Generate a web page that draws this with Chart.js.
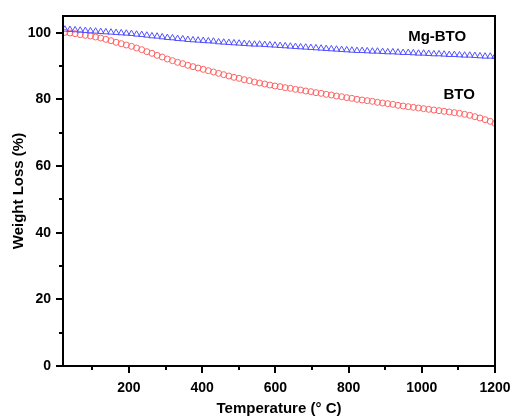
<!DOCTYPE html>
<html>
<head>
<meta charset="utf-8">
<script src="https://cdn.jsdelivr.net/npm/chart.js@4/dist/chart.umd.min.js"></script>
<style>
html,body{margin:0;padding:0;background:#fff;}
#wrap{width:513px;height:418px;position:relative;}
</style>
</head>
<body>
<div id="wrap"><canvas id="c" width="513" height="418"></canvas></div>
<script>
const temperatures = [25,39,53,67,81,95,109,123,137,151,165,179,193,207,221,235,249,263,277,291,305,319,333,347,361,375,389,403,417,431,445,459,473,487,501,515,529,543,557,571,585,599,613,627,641,655,669,683,697,711,725,739,753,767,781,795,809,823,837,851,865,879,893,907,921,935,949,963,977,991,1005,1019,1033,1047,1061,1075,1089,1103,1117,1131,1145,1159,1173,1187,1200];
const btoWeight = [100.1,99.9,99.7,99.4,99.2,99.0,98.7,98.4,98.0,97.6,97.1,96.7,96.3,95.9,95.4,94.9,94.3,93.8,93.2,92.7,92.1,91.6,91.1,90.7,90.2,89.8,89.4,89.0,88.6,88.2,87.8,87.4,87.0,86.6,86.3,85.9,85.6,85.2,84.9,84.6,84.3,84.0,83.8,83.5,83.3,83.0,82.8,82.5,82.3,82.0,81.8,81.5,81.3,81.0,80.8,80.5,80.3,80.0,79.8,79.6,79.4,79.1,78.9,78.7,78.5,78.2,78.0,77.8,77.6,77.4,77.2,77.0,76.8,76.6,76.4,76.2,76.0,75.8,75.5,75.2,74.8,74.4,73.9,73.4,72.8];
const mgBtoWeight = [101.0,100.9,100.8,100.7,100.6,100.5,100.4,100.3,100.2,100.1,100.0,99.9,99.8,99.7,99.5,99.4,99.2,99.0,98.9,98.7,98.5,98.4,98.2,98.1,97.9,97.8,97.7,97.6,97.5,97.4,97.2,97.1,97.0,96.9,96.8,96.7,96.6,96.5,96.5,96.4,96.3,96.2,96.1,96.0,95.9,95.8,95.7,95.6,95.5,95.4,95.3,95.2,95.1,95.0,94.9,94.8,94.7,94.6,94.6,94.5,94.4,94.4,94.3,94.2,94.2,94.1,94.0,94.0,93.9,93.8,93.8,93.7,93.6,93.6,93.5,93.4,93.4,93.3,93.2,93.2,93.1,93.0,92.9,92.9,92.8];
const xTickValues = [100,200,300,400,500,600,700,800,900,1000,1100,1200];
const xTickLabels = ["","200","","400","","600","","800","","1000","","1200"];
const yTickValues = [0,10,20,30,40,50,60,70,80,90,100];
const yTickLabels = ["0","","20","","40","","60","","80","","100"];
const seriesNames = ["Mg-BTO","BTO"];
const labelSpots = [{text:"Mg-BTO", x:1042, y:98.7},{text:"BTO", x:1102, y:81.3}];

const FONT = "'Liberation Sans', Arial, sans-serif";

const toXY = (xs, ys) => xs.map((t,i)=>({x:t, y:ys[i]}));

const framePlugin = {
  id:'frame',
  afterDatasetsDraw(chart){
    const {ctx, chartArea:a, scales} = chart;
    ctx.save();
    ctx.strokeStyle = '#000';
    ctx.lineWidth = 2;
    ctx.strokeRect(a.left, a.top, a.right-a.left, a.bottom-a.top);
    ctx.lineWidth = 2;
    ctx.beginPath();
    xTickValues.forEach((v,i)=>{
      const px = Math.round(scales.x.getPixelForValue(v));
      const len = xTickLabels[i] ? 7 : 4;
      ctx.moveTo(px, a.bottom); ctx.lineTo(px, a.bottom+len);
    });
    yTickValues.forEach((v,i)=>{
      const py = Math.round(scales.y.getPixelForValue(v));
      const len = yTickLabels[i] ? 7 : 4;
      ctx.moveTo(a.left, py); ctx.lineTo(a.left-len, py);
    });
    ctx.stroke();
    ctx.fillStyle = '#000';
    ctx.font = "bold 15px " + FONT;
    ctx.textAlign = 'center';
    ctx.textBaseline = 'middle';
    labelSpots.forEach(s=>{
      ctx.fillText(s.text, scales.x.getPixelForValue(s.x), scales.y.getPixelForValue(s.y));
    });
    ctx.restore();
  }
};

new Chart(document.getElementById('c'), {
  type:'scatter',
  data:{
    datasets:[
      {
        label: seriesNames[0],
        data: toXY(temperatures, mgBtoWeight),
        pointStyle:'triangle',
        pointRadius:3.6,
        borderColor:'rgb(80,80,255)',
        backgroundColor:'rgba(0,0,0,0)',
        pointBorderWidth:1,
        showLine:false
      },
      {
        label: seriesNames[1],
        data: toXY(temperatures, btoWeight),
        pointStyle:'circle',
        pointRadius:3,
        borderColor:'rgb(255,100,100)',
        backgroundColor:'rgba(0,0,0,0)',
        pointBorderWidth:1,
        showLine:false
      }
    ]
  },
  options:{
    responsive:false,
    animation:false,
    devicePixelRatio:1,
    layout:{padding:{left:10, top:16, right:18, bottom:0}},
    plugins:{legend:{display:false}, tooltip:{enabled:false}},
    scales:{
      x:{
        type:'linear', min:20, max:1200,
        afterBuildTicks(s){ s.ticks = xTickValues.map(v=>({value:v})); },
        afterFit(s){ s.height = 52; s.paddingLeft = 0; s.paddingRight = 0; },
        grid:{display:true, drawOnChartArea:false, drawTicks:true, tickLength:7, tickColor:'rgba(0,0,0,0)'},
        border:{display:false},
        ticks:{
          autoSkip:false, maxRotation:0, padding:7, color:'#000',
          font:{family:FONT, size:14, weight:'bold'},
          callback(v){ const i = xTickValues.indexOf(v); return i>=0 ? xTickLabels[i] : ''; }
        },
        title:{display:true, text:'Temperature (° C)', color:'#000', padding:{top:2,bottom:0},
          font:{family:FONT, size:15, weight:'bold'}}
      },
      y:{
        type:'linear', min:0, max:105,
        afterBuildTicks(s){ s.ticks = yTickValues.map(v=>({value:v})); },
        afterFit(s){ s.width = 53; s.paddingTop = 0; s.paddingBottom = 0; },
        grid:{display:true, drawOnChartArea:false, drawTicks:true, tickLength:7, tickColor:'rgba(0,0,0,0)'},
        border:{display:false},
        ticks:{
          autoSkip:false, padding:5, color:'#000',
          font:{family:FONT, size:14, weight:'bold'},
          callback(v){ const i = yTickValues.indexOf(v); return i>=0 ? yTickLabels[i] : ''; }
        },
        title:{display:true, text:'Weight Loss (%)', color:'#000', padding:{top:0,bottom:4},
          font:{family:FONT, size:15, weight:'bold'}}
      }
    }
  },
  plugins:[framePlugin]
});
</script>
</body>
</html>
